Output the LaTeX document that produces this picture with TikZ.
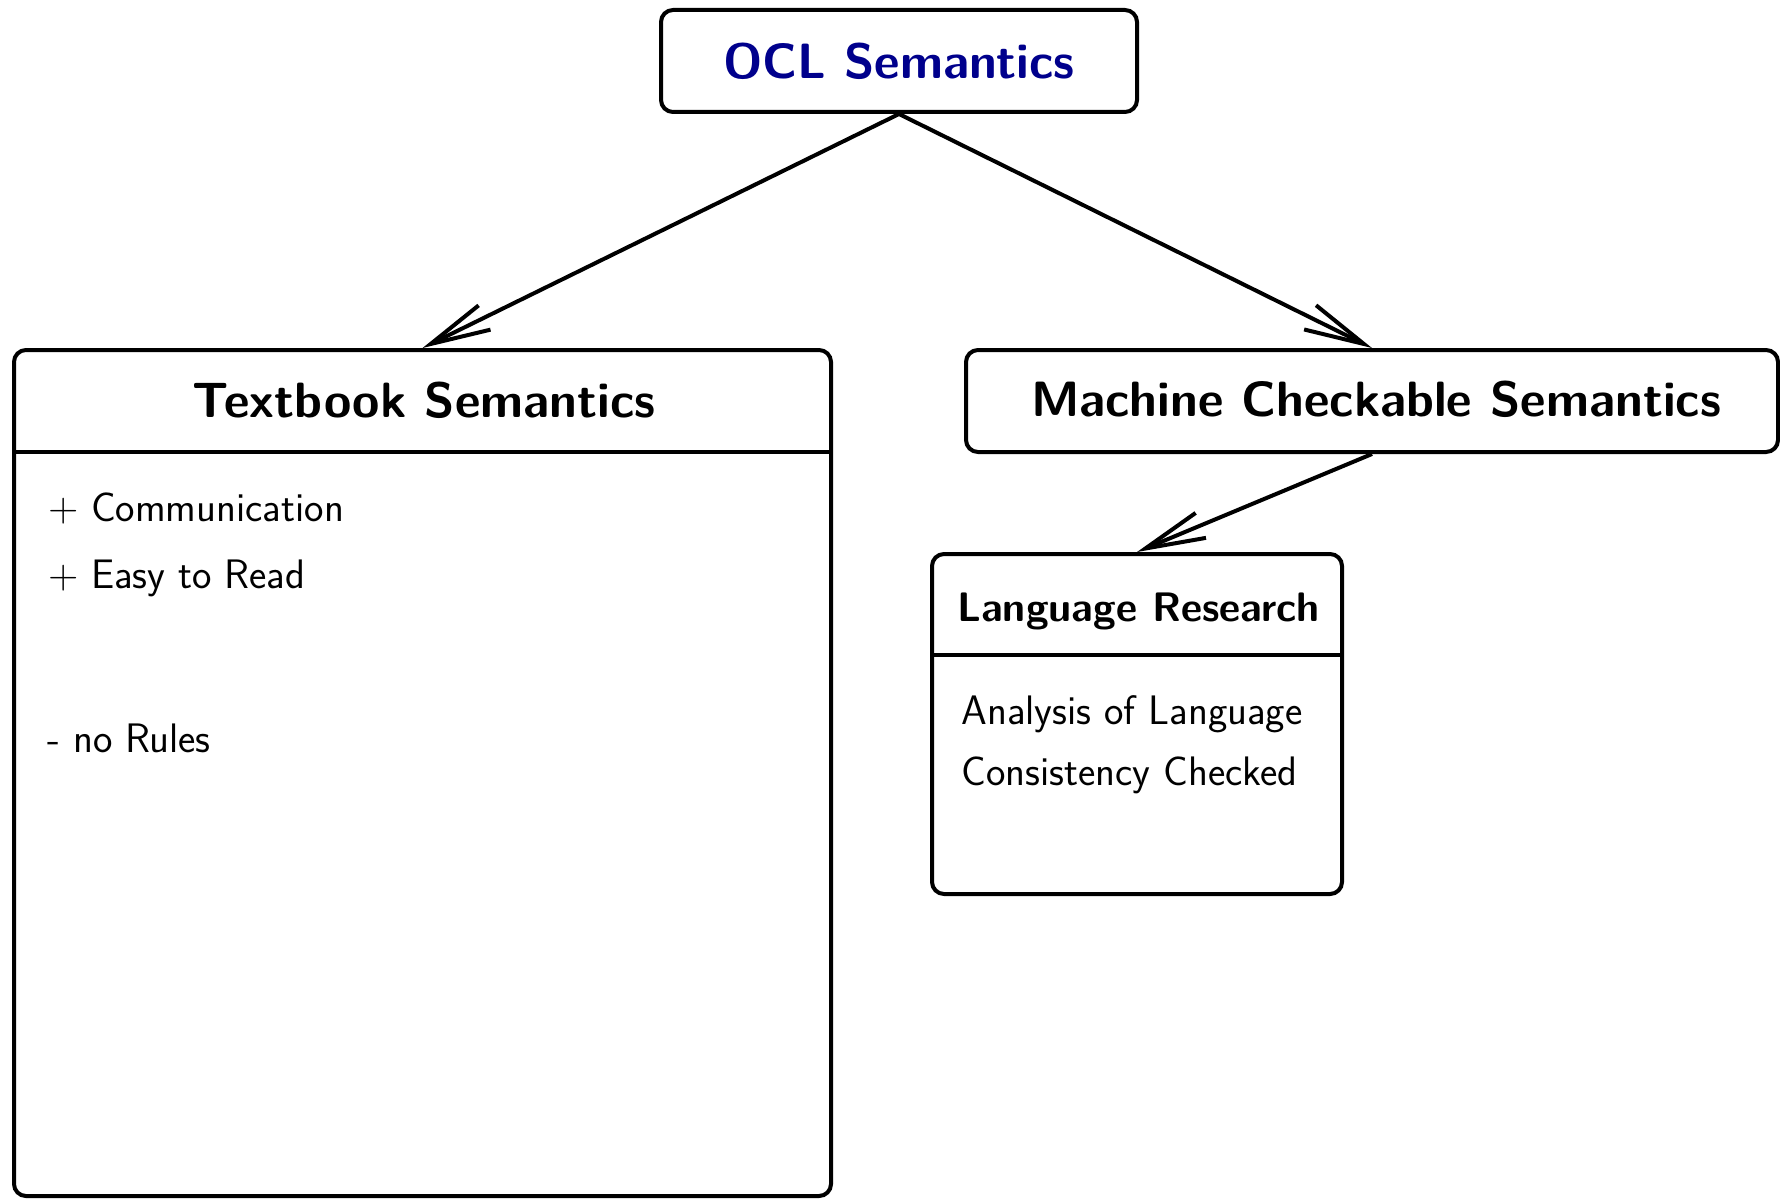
\documentclass[tikz,border=0pt]{standalone}
\usetikzlibrary{arrows.meta}
\definecolor{titleblue}{RGB}{0,0,140}
\tikzset{
  box/.style={draw, line width=2pt, rounded corners=6pt, rectangle, inner sep=0pt},
  headtext/.style={font=\sffamily\bfseries\fontsize{24.8}{28}\selectfont, anchor=base, inner sep=0pt},
  smallhead/.style={font=\sffamily\bfseries\fontsize{20.6}{24}\selectfont, anchor=base west, inner sep=0pt},
  bodytext/.style={font=\sffamily\fontsize{20.6}{24}\selectfont, anchor=base west, inner sep=0pt},
  sep/.style={line width=2pt},
  arr/.style={line width=2pt, -{Straight Barb[length=30pt, width=13.5pt]}}
}
\begin{document}
\begin{tikzpicture}[x=0.5pt, y=-0.5pt]
  \useasboundingbox (0,0) rectangle (1780,1198);

  % boxes
  \node[box, minimum width=238pt, minimum height=51pt] (ocl) at (899,61) {};
  \node[box, minimum width=408.5pt, minimum height=423pt] (textbook) at (422.5,773) {};
  \node[box, minimum width=406pt, minimum height=51pt] (machine) at (1372,401) {};
  \node[box, minimum width=205pt, minimum height=170pt] (lang) at (1137,724) {};

  % compartment separators
  \draw[sep] (textbook.west |- 0,452) -- (textbook.east |- 0,452);
  \draw[sep] (lang.west |- 0,655) -- (lang.east |- 0,655);

  % titles
  \node[headtext, text=titleblue] (oclt) at (899,79) {OCL Semantics};
  \node[headtext] (textbookt) at (424,417) {Textbook Semantics};
  \node[headtext] (machinet) at (1376,416) {Machine Checkable Semantics};
  \node[smallhead] (langt) at (957,621) {Language Research};

  % compartment entries
  \node[bodytext] (tb1) at (48,521) {$+$ Communication};
  \node[bodytext] (tb2) at (48,588) {$+$ Easy to Read};
  \node[bodytext] (tb3) at (47,752) {- no Rules};
  \node[bodytext] (lr1) at (961,724) {Analysis of Language};
  \node[bodytext] (lr2) at (961,785) {Consistency Checked};

  % connectors
  \draw[arr] (ocl.south) -- (textbook.north);
  \draw[arr] (ocl.south) -- (machine.north);
  \draw[arr] (machine.south) -- (lang.north);
\end{tikzpicture}
\end{document}
